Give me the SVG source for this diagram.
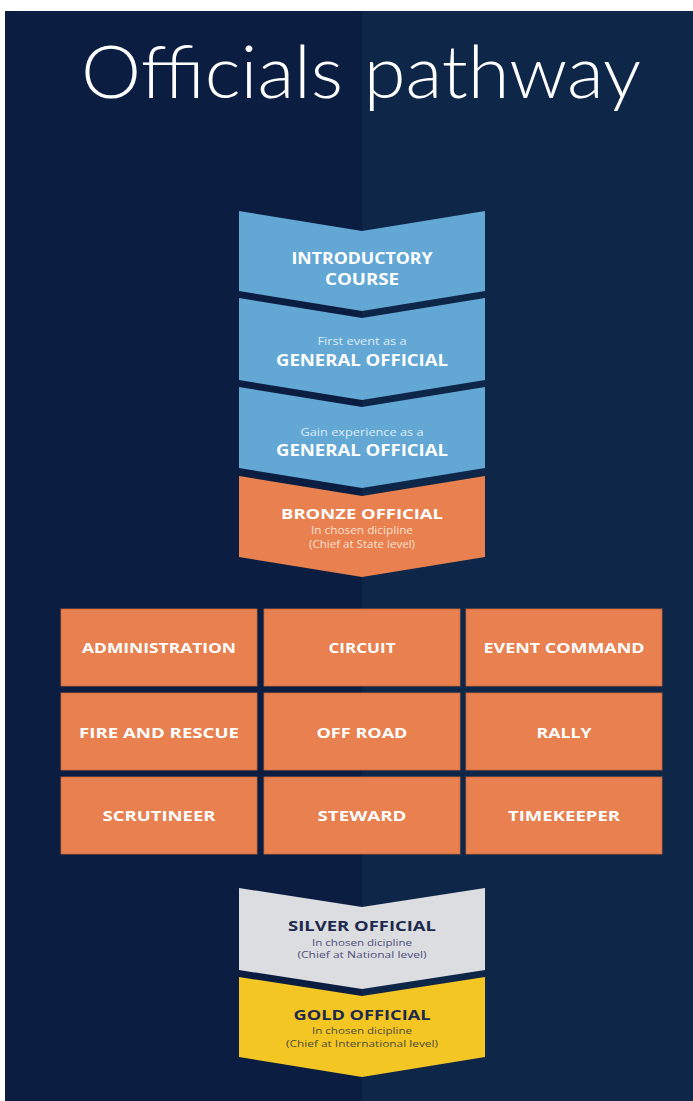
<svg xmlns="http://www.w3.org/2000/svg" width="693" height="1101" viewBox="0 0 693 1101">
<style>
.bold{font-family:"Open Sans","Noto Sans","Liberation Sans",sans-serif;font-weight:700;text-anchor:middle;}
.small{font-family:"Open Sans","Noto Sans","Liberation Sans",sans-serif;font-weight:400;text-anchor:middle;}
.w{fill:#ffffff;}
.blue{fill:#63a7d5;}
.orange{fill:#e8804f;}
.box{fill:#e8804f;stroke:#c9683e;stroke-width:0.8;}
.lt{fill:#dcecf7;}
.ltor{fill:#fbe0d0;}
.navy{fill:#1d2a4d;}
.purp{fill:#4b4d7c;}
.goldsub{fill:#4a4a3c;}
</style>
<rect x="0" y="0" width="693" height="1101" fill="#ffffff"/>
<rect x="5" y="11" width="357" height="1090" fill="#0b1e42"/>
<rect x="362" y="11" width="331" height="1090" fill="#0e2647"/>
<text x="361" y="98" font-family="Lato,'Open Sans','Liberation Sans',sans-serif" font-weight="300" font-size="72" fill="#ffffff" text-anchor="middle" textLength="560" lengthAdjust="spacingAndGlyphs">Officials pathway</text>
<g id="introductory">
<path class="blue" d="M239,211 L362,231 L485,211 L485,291 L362,311 L239,291 Z"/>
<text class="bold w" x="362" y="264" font-size="15.5" textLength="141" lengthAdjust="spacingAndGlyphs">INTRODUCTORY</text>
<text class="bold w" x="362" y="285" font-size="15.5" textLength="74" lengthAdjust="spacingAndGlyphs">COURSE</text>
</g>
<g id="first-event">
<path class="blue" d="M239,298 L362,318 L485,298 L485,380 L362,400 L239,380 Z"/>
<text class="small lt" x="362" y="345" font-size="10.5" textLength="89" lengthAdjust="spacingAndGlyphs">First event as a</text>
<text class="bold w" x="362" y="366" font-size="15.5" textLength="172" lengthAdjust="spacingAndGlyphs">GENERAL OFFICIAL</text>
</g>
<g id="gain-experience">
<path class="blue" d="M239,387 L362,407 L485,387 L485,468 L362,488 L239,468 Z"/>
<text class="small lt" x="362" y="436" font-size="10.5" textLength="123" lengthAdjust="spacingAndGlyphs">Gain experience as a</text>
<text class="bold w" x="362" y="456" font-size="15.5" textLength="172" lengthAdjust="spacingAndGlyphs">GENERAL OFFICIAL</text>
</g>
<g id="bronze">
<path class="orange" d="M239,476 L362,496 L485,476 L485,557 L362,577 L239,557 Z"/>
<text class="bold w" x="362" y="519" font-size="15" textLength="162" lengthAdjust="spacingAndGlyphs">BRONZE OFFICIAL</text>
<text class="small ltor" x="362" y="534" font-size="10" textLength="102" lengthAdjust="spacingAndGlyphs">In chosen dicipline</text>
<text class="small ltor" x="362" y="548" font-size="10" textLength="106" lengthAdjust="spacingAndGlyphs">(Chief at State level)</text>
</g>
<g id="administration"><rect class="box" x="61" y="609" width="196" height="77"/><text class="bold w" x="159" y="653" font-size="14" textLength="154" lengthAdjust="spacingAndGlyphs">ADMINISTRATION</text></g>
<g id="circuit"><rect class="box" x="264" y="609" width="196" height="77"/><text class="bold w" x="362" y="653" font-size="14" textLength="67" lengthAdjust="spacingAndGlyphs">CIRCUIT</text></g>
<g id="event-command"><rect class="box" x="466" y="609" width="196" height="77"/><text class="bold w" x="564" y="653" font-size="14" textLength="161" lengthAdjust="spacingAndGlyphs">EVENT COMMAND</text></g>
<g id="fire-and-rescue"><rect class="box" x="61" y="693" width="196" height="77"/><text class="bold w" x="159" y="738" font-size="14" textLength="160" lengthAdjust="spacingAndGlyphs">FIRE AND RESCUE</text></g>
<g id="off-road"><rect class="box" x="264" y="693" width="196" height="77"/><text class="bold w" x="362" y="738" font-size="14" textLength="91" lengthAdjust="spacingAndGlyphs">OFF ROAD</text></g>
<g id="rally"><rect class="box" x="466" y="693" width="196" height="77"/><text class="bold w" x="564" y="738" font-size="14" textLength="55" lengthAdjust="spacingAndGlyphs">RALLY</text></g>
<g id="scrutineer"><rect class="box" x="61" y="777" width="196" height="77"/><text class="bold w" x="159" y="821" font-size="14" textLength="113" lengthAdjust="spacingAndGlyphs">SCRUTINEER</text></g>
<g id="steward"><rect class="box" x="264" y="777" width="196" height="77"/><text class="bold w" x="362" y="821" font-size="14" textLength="89" lengthAdjust="spacingAndGlyphs">STEWARD</text></g>
<g id="timekeeper"><rect class="box" x="466" y="777" width="196" height="77"/><text class="bold w" x="564" y="821" font-size="14" textLength="112" lengthAdjust="spacingAndGlyphs">TIMEKEEPER</text></g>
<g id="silver">
<path fill="#dcdde0" d="M239,888 L362,907 L485,888 L485,970 L362,989 L239,970 Z"/>
<text class="bold navy" x="362" y="931" font-size="15" textLength="148" lengthAdjust="spacingAndGlyphs">SILVER OFFICIAL</text>
<text class="small purp" x="362" y="946" font-size="9.5" textLength="100" lengthAdjust="spacingAndGlyphs">In chosen dicipline</text>
<text class="small purp" x="362" y="958" font-size="9.5" textLength="129" lengthAdjust="spacingAndGlyphs">(Chief at National level)</text>
</g>
<g id="gold">
<path fill="#f4c624" d="M239,977 L362,996 L485,977 L485,1057 L362,1077 L239,1057 Z"/>
<text class="bold navy" x="362" y="1020" font-size="15" textLength="137" lengthAdjust="spacingAndGlyphs">GOLD OFFICIAL</text>
<text class="small goldsub" x="362" y="1034" font-size="9.5" textLength="100" lengthAdjust="spacingAndGlyphs">In chosen dicipline</text>
<text class="small goldsub" x="362" y="1047" font-size="9.5" textLength="152" lengthAdjust="spacingAndGlyphs">(Chief at International level)</text>
</g>
<g id="connectors"></g>
</svg>
